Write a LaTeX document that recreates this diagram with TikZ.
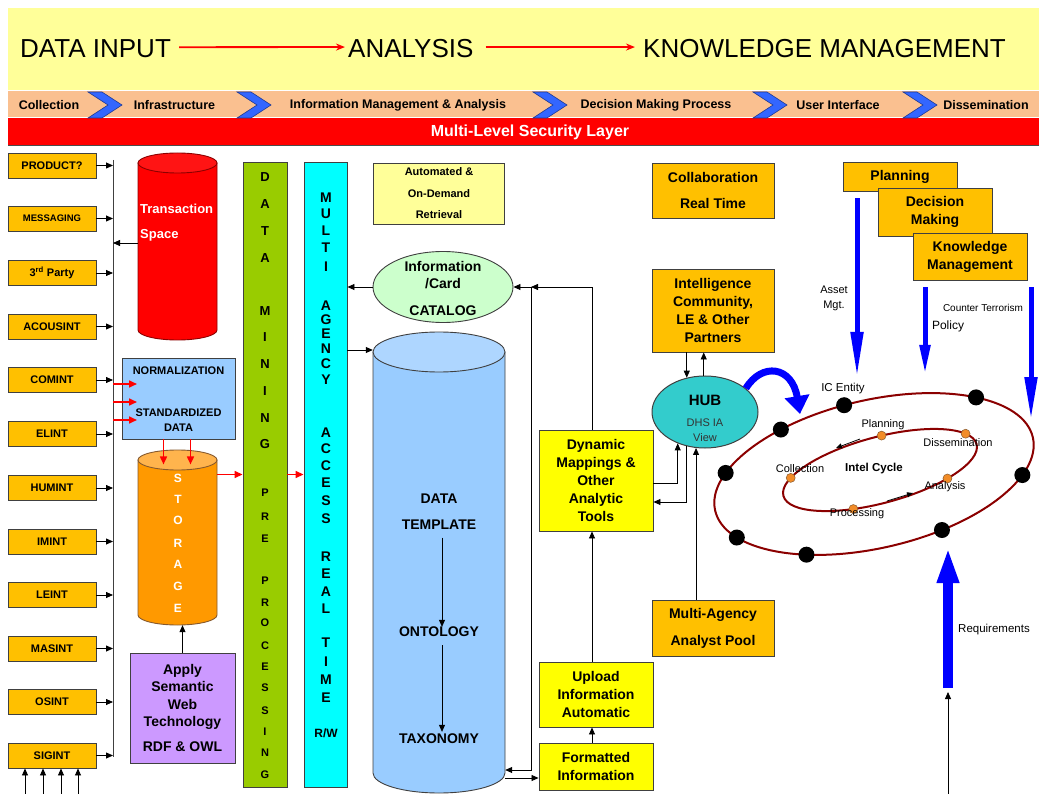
\documentclass[tikz,border=0pt]{standalone}
\usepackage{fontspec}
\setmainfont{Liberation Sans}
\usetikzlibrary{arrows.meta,shapes.geometric,calc}

\definecolor{hdrYellow}{HTML}{FFFF99}
\definecolor{bandPeach}{HTML}{FAC090}
\definecolor{chevBlue}{HTML}{3366FF}
\definecolor{chevEdge}{HTML}{1F3A93}
\definecolor{gold}{HTML}{FFC000}
\definecolor{normBlue}{HTML}{99CCFF}
\definecolor{lilac}{HTML}{CC99FF}
\definecolor{mineGreen}{HTML}{99CC00}
\definecolor{accCyan}{HTML}{00FFFF}
\definecolor{catGreen}{HTML}{CCFFCC}
\definecolor{hubTeal}{HTML}{33CCCC}
\definecolor{toolYellow}{HTML}{FFFF00}
\definecolor{storeOrange}{HTML}{FF9900}
\definecolor{storeTop}{HTML}{FFB44D}
\definecolor{cylBlue}{HTML}{99CCFF}
\definecolor{cylTop}{HTML}{AED6FF}
\definecolor{cycleRed}{HTML}{8B0000}
\definecolor{dotOrange}{HTML}{F28C28}
\definecolor{edgeGray}{HTML}{404040}

\newcommand{\fsz}[2]{\fontsize{#1pt}{#2pt}\selectfont}

\begin{document}
\begin{tikzpicture}[x=1pt,y=-1pt,
  box/.style={draw=edgeGray, line width=0.9pt, inner sep=0pt, align=center, text=black},
  srcbox/.style={box, fill=gold, minimum width=88pt, minimum height=25pt, font=\bfseries\fsz{11}{13}},
  goldbox/.style={box, fill=gold, font=\bfseries\fsz{14}{18}},
  toolbox/.style={box, fill=toolYellow, font=\bfseries\fsz{14}{17.8}},
  arr/.style={draw=black, line width=0.8pt, -{Triangle[length=7pt,width=6pt]}},
  smallarr/.style={draw=black, line width=0.8pt, -{Triangle[length=6pt,width=5pt]}},
  redarr/.style={draw=red, line width=1.6pt, -{Triangle[length=8pt,width=7pt]}},
  hdrarr/.style={draw=red, line width=1.8pt, -{Stealth[length=9pt,width=7pt]}},
  hdr/.style={font=\fsz{26}{28}, inner sep=0pt},
  band/.style={font=\bfseries\fsz{12.5}{14}, inner sep=0pt},
  mineletter/.style={font=\bfseries\fsz{13}{13}, inner sep=0pt},
  preletter/.style={font=\bfseries\fsz{11}{11}, inner sep=0pt},
  accletter/.style={font=\bfseries\fsz{14}{14}, inner sep=0pt},
  cyclabel/.style={font=\fsz{11}{13}, inner sep=0pt},
  bluearr/.style={draw=blue, line width=5pt}
]
\useasboundingbox (0,0) rectangle (1039,794);
\fill[white] (0,0) rectangle (1039,794);

% ---------- header bands ----------
\fill[hdrYellow] (8,8) rectangle (1039,90);
\fill[bandPeach] (8,91) rectangle (1039,117);
\fill[red] (8,118) rectangle (1039,145);
\draw[black!70, line width=1pt] (8,146) -- (1039,146);

\node[hdr, anchor=base west] (hIn) at (20,58) {DATA INPUT};
\node[hdr, anchor=base west] (hAn) at (348,58) {ANALYSIS};
\node[hdr, anchor=base west] (hKm) at (643,58) {KNOWLEDGE MANAGEMENT};
\draw[hdrarr] ([xshift=8pt,yshift=2pt]hIn.east) -- ([xshift=-3pt,yshift=2pt]hAn.west);
\draw[hdrarr] ([xshift=12pt,yshift=2pt]hAn.east) -- ([xshift=-8pt,yshift=2pt]hKm.west);

% process chevrons
\foreach \cx in {88,237,533,753,903}
  \filldraw[fill=chevBlue, draw=chevEdge, line width=0.6pt]
    (\cx,92) -- ++(14,0) -- ++(20,13) -- ++(-20,13) -- ++(-14,0) -- ++(20,-13) -- cycle;

\node[band] (bColl) at (49,105) {Collection};
\node[band] (bInfra) at (174.5,105) {Infrastructure};
\node[band] (bInfo) at (398,105) {Information Management \& Analysis};
\node[band] (bDec) at (656,105) {Decision Making Process};
\node[band] (bUser) at (838,105) {User Interface};
\node[band] (bDiss) at (986,105) {Dissemination};

\node[font=\bfseries\fsz{16}{18}, text=white, inner sep=0pt] (mls) at (530,132) {Multi-Level Security Layer};

% ---------- collection sources ----------
\coordinate (bus) at (113,160);
\coordinate (busEnd) at (113,757);
\draw[line width=0.9pt, draw=edgeGray] (bus) -- (busEnd);

\node[srcbox] (prod) at (52,165.5) {PRODUCT?};
\node[srcbox, font=\bfseries\fsz{9.5}{11}] (msg) at (52,218.5) {MESSAGING};
\node[srcbox] (third) at (52,273) {3\textsuperscript{rd} Party};
\node[srcbox] (acou) at (52,326.5) {ACOUSINT};
\node[srcbox] (comi) at (52,380) {COMINT};
\node[srcbox] (elin) at (52,434) {ELINT};
\node[srcbox] (humi) at (52,488) {HUMINT};
\node[srcbox] (imin) at (52,541.5) {IMINT};
\node[srcbox] (lein) at (52,595) {LEINT};
\node[srcbox] (masi) at (52,648.5) {MASINT};
\node[srcbox] (osin) at (52,702) {OSINT};
\node[srcbox] (sigi) at (52,755.5) {SIGINT};
\foreach \n in {prod,msg,third,acou,comi,elin,humi,imin,lein,masi,osin,sigi}
  \draw[arr] (\n.east) -- (\n.east -| bus);

\foreach \x in {25,43,61,78} {
  \coordinate (in\x) at (\x,794);
  \draw[arr] (in\x) -- (in\x |- sigi.south);
}

% ---------- transaction space cylinder ----------
\filldraw[fill=red, draw=red!55!black, line width=0.9pt]
  (138,163) -- (138,330) arc[start angle=180,end angle=360,x radius=39.5pt,y radius=10pt] -- (217,163) -- cycle;
\filldraw[fill=red!92!white, draw=red!55!black, line width=0.9pt] (177.5,163) ellipse[x radius=39.5pt, y radius=10pt];
\node[inner sep=0pt, minimum width=79pt, minimum height=187pt] (trans) at (177.5,246.5) {};
\node[anchor=west, text=white, font=\bfseries\fsz{13}{25}, align=left, inner sep=0pt] (transTxt) at (140,222.5) {Transaction\\Space};
\coordinate (tsOut) at (138,243);
\draw[arr] (tsOut) -- (tsOut -| bus);

% ---------- normalization ----------
\node[box, fill=normBlue, minimum width=113pt, minimum height=81pt] (norm) at (178.5,398.5) {};
\node[font=\bfseries\fsz{11}{15}, inner sep=0pt] (normT) at (178.5,371) {NORMALIZATION};
\node[font=\bfseries\fsz{11}{15}, align=center, inner sep=0pt] (stdT) at (178.5,420.5) {STANDARDIZED\\DATA};
\foreach \y in {384,402,420} {
  \coordinate (nIn\y) at (113,\y);
  \draw[redarr] (nIn\y) -- ++(24,0);
}

% ---------- storage cylinder ----------
\filldraw[fill=storeOrange, draw=brown!70!black, line width=0.9pt]
  (138,460) -- (138,615) arc[start angle=180,end angle=360,x radius=39.5pt,y radius=10pt] -- (217,460) -- cycle;
\filldraw[fill=storeTop, draw=brown!70!black, line width=0.9pt] (177.5,460) ellipse[x radius=39.5pt, y radius=10pt];
\node[inner sep=0pt, minimum width=79pt, minimum height=175pt] (stor) at (177.5,537.5) {};
\foreach \l/\y in {S/478,T/499,O/520,R/543,A/564,G/586,E/608}
  \node[font=\bfseries\fsz{12}{12}, text=white, inner sep=0pt] (st\y) at (178,\y) {\l};
\draw[redarr] ([xshift=-15pt]norm.south) -- ++(0,25);
\draw[redarr] ([xshift=12pt]norm.south) -- ++(0,25);

% ---------- semantic web ----------
\node[box, fill=lilac, minimum width=105pt, minimum height=110pt, font=\bfseries\fsz{14}{17.5}] (sem) at (182.5,708)
  {Apply\\Semantic\\Web\\Technology\\[7.5pt]RDF \& OWL};
\draw[arr] (sem.north) -- (sem.north |- stor.south);

% ---------- vertical bars ----------
\node[box, fill=mineGreen, minimum width=44pt, minimum height=625pt] (mine) at (265,474.5) {};
\node[box, fill=accCyan, minimum width=43pt, minimum height=625pt] (multi) at (325.5,474.5) {};
\foreach \l/\y in {D/177,A/204,T/231,A/258,M/311,I/337,N/364,I/391,N/418,G/444}
  \node[mineletter] (dm\y) at (265,\y) {\l};
\foreach \l/\y in {P/493,R/517,E/539,P/581,R/603,O/623,C/646,E/667,S/688,S/711,I/732,N/753,G/775}
  \node[preletter] (pp\y) at (265,\y) {\l};
\foreach \l/\y in {M/198,U/214,L/231,T/248,I/267,A/306,G/320,E/334,N/349,C/364,Y/380,A/433,C/449,C/466,E/483,S/501,S/519,R/557,E/574,A/592,L/609,T/643,I/662,M/680,E/698}
  \node[accletter] (ma\y) at (326,\y) {\l};
\node[font=\bfseries\fsz{12}{12}, inner sep=0pt] (rw) at (326,733) {R/W};

\draw[redarr] (stor.east |- mine.west) -- (mine.west);
\draw[redarr] (mine.east) -- (multi.west);

% ---------- retrieval and catalog ----------
\node[box, fill=hdrYellow, minimum width=131pt, minimum height=61pt, font=\bfseries\fsz{11}{21.5}] (auto) at (439,193.5)
  {Automated \&\\On-Demand\\Retrieval};
\node[ellipse, draw=edgeGray, line width=0.9pt, fill=catGreen, minimum width=140pt, minimum height=71pt, inner sep=0pt] (cat) at (443,287) {};
\node[font=\bfseries\fsz{14}{16.5}, align=center, inner sep=0pt] (catT1) at (443,275) {Information\\/Card};
\node[font=\bfseries\fsz{14}{16}, inner sep=0pt] (catT2) at (443,311) {CATALOG};
\draw[arr] (cat.west) -- (cat.west -| multi.east);

% ---------- data cylinder ----------
\filldraw[fill=cylBlue, draw=edgeGray, line width=0.9pt]
  (373,352) -- (373,773) arc[start angle=180,end angle=360,x radius=66pt,y radius=20pt] -- (505,352) -- cycle;
\filldraw[fill=cylTop, draw=edgeGray, line width=0.9pt] (439,352) ellipse[x radius=66pt, y radius=20pt];
\node[inner sep=0pt, minimum width=132pt, minimum height=461pt] (dcyl) at (439,562.5) {};
\coordinate (mcA) at (347,350);
\draw[arr] (mcA) -- (mcA -| dcyl.west);

\node[font=\bfseries\fsz{14}{26}, align=center, inner sep=0pt] (tmpl) at (439,511.5) {DATA\\TEMPLATE};
\node[font=\bfseries\fsz{14}{16}, inner sep=0pt] (onto) at (439,632) {ONTOLOGY};
\node[font=\bfseries\fsz{14}{16}, inner sep=0pt] (taxo) at (439,739) {TAXONOMY};
\draw[arr] ([xshift=3pt,yshift=-8pt]tmpl.south) -- ([xshift=3pt]onto.north);
\draw[arr] ([xshift=3pt,yshift=-8pt]onto.south) -- ([xshift=3pt,yshift=2pt]taxo.north);

% ---------- analytic tools column ----------
\node[toolbox, minimum width=114pt, minimum height=101pt] (dyn) at (596,480.5) {Dynamic\\Mappings \&\\Other\\Analytic\\Tools};
\node[toolbox, minimum width=114pt, minimum height=65pt] (upl) at (596,694.5) {Upload\\Information\\Automatic};
\node[toolbox, minimum width=114pt, minimum height=47pt] (fmt) at (596,766.5) {Formatted\\Information};
\draw[arr] ([xshift=-4pt]upl.north) -- ([xshift=-4pt]dyn.south);
\draw[arr] ([xshift=-4pt]fmt.north) -- ([xshift=-4pt]upl.south);

\coordinate (jTop) at (531,287);
\coordinate (jBot) at (531,770);
\draw[arr] (jTop) -- (cat.east);
\draw[arr] (jTop) -- (jBot) -- (jBot -| dcyl.east);
\draw[arr] ([xshift=-4pt]dyn.north) |- (jTop);
\coordinate (fmtIn) at ([yshift=-11.5pt]fmt.west);
\draw[arr] (fmtIn -| dcyl.east) -- (fmtIn);

% ---------- collaboration and hub ----------
\node[goldbox, minimum width=122pt, minimum height=55pt, font=\bfseries\fsz{14}{26}] (colab) at (713,190.5) {Collaboration\\Real Time};
\node[goldbox, minimum width=122pt, minimum height=83pt] (ic) at (713,310.5) {Intelligence\\Community,\\LE \& Other\\Partners};
\node[goldbox, minimum width=122pt, minimum height=56pt, font=\bfseries\fsz{14}{27}] (pool) at (713,628) {Multi-Agency\\Analyst Pool};

\node[ellipse, draw=edgeGray, line width=1pt, fill=hubTeal, minimum width=106pt, minimum height=72pt, inner sep=0pt] (hub) at (705,412) {};
\node[font=\bfseries\fsz{15}{15}, inner sep=0pt] (hubT) at (705,400) {HUB};
\node[font=\fsz{11}{14.5}, align=center, text=black!80, inner sep=0pt] (hubS) at (705,430) {DHS IA\\View};

\draw[arr] (ic.south -| hub.118) -- (hub.118);
\draw[arr] (hub.92) -- (hub.92 |- ic.south);
\draw[arr] ([yshift=-2.5pt]dyn.east) -| (hub.229);
\draw[arr] (hub.242) |- ([yshift=-21.5pt]dyn.east);
\draw[arr] (pool.north -| hub.256) -- (hub.256);

% ---------- planning stack ----------
\node[goldbox, minimum width=114pt, minimum height=29pt] (plan) at (900,176.5) {Planning};
\node[goldbox, minimum width=114pt, minimum height=48pt] (dec) at (935,212) {Decision\\Making};
\node[goldbox, minimum width=114pt, minimum height=47pt] (km) at (970,256.5) {Knowledge\\Management};

\coordinate (am1) at ($(plan.south)+(-43,7)$);
\coordinate (am2) at (857,377);
\coordinate (po1) at ($(km.south)+(-45,7)$);
\coordinate (po2) at (925,375);
\coordinate (ct1) at ($(km.south)+(61,7)$);
\coordinate (ct2) at (1031,420);
\draw[bluearr, -{Triangle[length=45pt,width=12pt]}] (am1) -- (am2);
\draw[bluearr, -{Triangle[length=30pt,width=10pt]}] (po1) -- (po2);
\draw[bluearr, -{Triangle[length=43pt,width=12pt]}] (ct1) -- (ct2);
\node[font=\fsz{11}{15}, align=center, inner sep=0pt] (amL) at (834,298) {Asset\\Mgt.};
\node[font=\fsz{12}{14}, inner sep=0pt] (poL) at (948,326) {Policy};
\node[font=\fsz{10}{12}, inner sep=0pt] (ctL) at (983,308) {Counter Terrorism};

% ---------- intel cycle ----------
\draw[blue, line width=7pt, -{Triangle[length=18pt,width=24pt]}] (hub.30) .. controls (762,362) and (792,366) .. (800,414);

\draw[cycleRed, line width=2pt, rotate around={13:(874,474)}] (874,474) ellipse[x radius=163pt, y radius=74pt];
\draw[cycleRed, line width=2pt, rotate around={15:(880,470)}] (880,470) ellipse[x radius=100pt, y radius=33pt];

\foreach \t in {94.8,119.7,152.3,204.8,239,289.2,332.3,44.3}
  \fill[black] ({874+163*cos(\t)*cos(13)-74*sin(\t)*sin(13)},{474-163*cos(\t)*sin(13)-74*sin(\t)*cos(13)}) circle[radius=8pt];
\foreach \t in {84,23,152,249,309}
  \filldraw[fill=dotOrange, draw=brown!70!black, line width=0.5pt]
    ({880+100*cos(\t)*cos(15)-33*sin(\t)*sin(15)},{470-100*cos(\t)*sin(15)-33*sin(\t)*cos(15)}) circle[radius=4.5pt];

\node[font=\fsz{11.5}{13}, inner sep=0pt] (icE) at (843,389) {IC Entity};
\node[cyclabel] (cPlan) at (883,425) {Planning};
\node[cyclabel] (cDiss) at (958,443) {Dissemination};
\node[cyclabel] (cColl) at (800,469) {Collection};
\node[font=\bfseries\fsz{11.5}{13}, inner sep=0pt] (cIntel) at (874,469) {Intel Cycle};
\node[cyclabel] (cAnal) at (945,487) {Analysis};
\node[cyclabel] (cProc) at (857,514) {Processing};

\coordinate (ta1) at (860,439);
\coordinate (ta2) at (836,448);
\coordinate (ba1) at (887,501);
\coordinate (ba2) at (913,493);
\draw[smallarr] (ta1) -- (ta2);
\draw[smallarr] (ba1) -- (ba2);

% ---------- requirements ----------
\coordinate (rq0) at (948,794);
\coordinate (rq1) at (948,688);
\coordinate (rq2) at (948,547);
\draw[blue, line width=10pt, -{Triangle[length=36pt,width=20pt]}] (rq1) -- (rq2);
\draw[arr] (rq0) -- ($(rq1)+(0,4)$);
\node[font=\fsz{11.5}{14}, anchor=west, inner sep=0pt] (rqL) at (958,630) {Requirements};

\end{tikzpicture}
\end{document}
